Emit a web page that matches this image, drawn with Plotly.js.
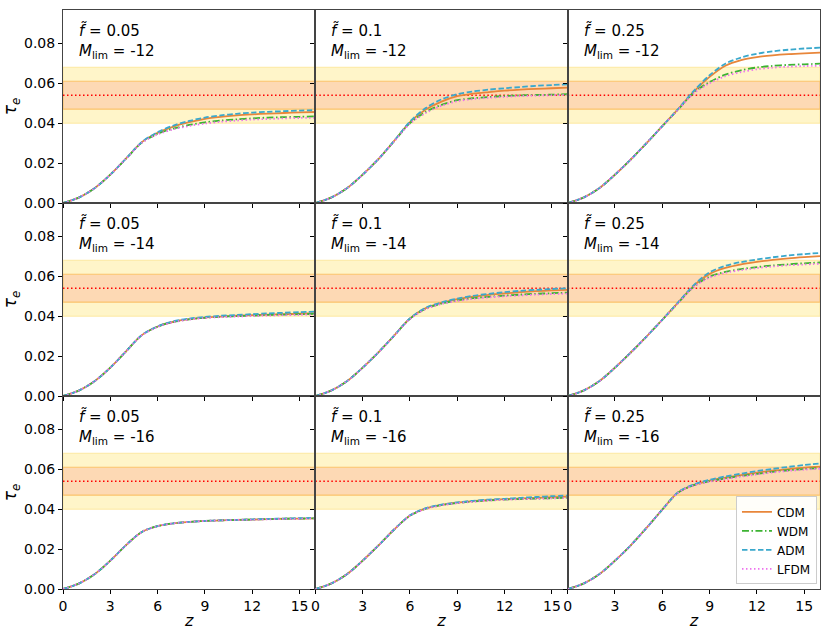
<!DOCTYPE html>
<html>
<head>
<meta charset="utf-8">
<script src="https://cdn.plot.ly/plotly-3.0.1.min.js"></script>
<style>
  body { margin: 0; background: #fff; }
  #plot { width: 830px; height: 635px; }
</style>
</head>
<body>
<div id="plot"></div>
<script>
// redshift grid, z = 0..16
const zGrid = [0,1,2,3,4,5,6,7,8,9,10,11,12,13,14,15,16];

// panel labels (row = M_lim, col = f~)
const fTilde = ['0.05', '0.1', '0.25'];
const mLim = ['-12', '-14', '-16'];
const models = ['CDM', 'WDM', 'ADM', 'LFDM'];

// Planck tau_e and its 1/2 sigma bands
const tauPlanck = 0.054;
const sig1 = 0.007;
const sig2 = 0.014;

// tau_e(z), one row per panel (row-major: M=-12 f=.05,.1,.25 ; M=-14 ... ; M=-16 ...)
const cdm = [
  [0,0.0027,0.0074,0.0142,0.0223,0.0305,0.0352,0.0383,0.0405,0.0422,0.0432,0.0439,0.0444,0.0448,0.0451,0.0454,0.0456],
  [0,0.0027,0.0074,0.0142,0.0220,0.0311,0.0405,0.0468,0.0508,0.0535,0.0548,0.0556,0.0563,0.0568,0.0572,0.0575,0.0578],
  [0,0.0027,0.0074,0.0142,0.0218,0.0300,0.0385,0.0470,0.0558,0.0632,0.0688,0.0716,0.0731,0.0740,0.0746,0.0750,0.0753],
  [0,0.0027,0.0074,0.0142,0.0224,0.0305,0.0348,0.0372,0.0385,0.0393,0.0398,0.0402,0.0405,0.0408,0.0410,0.0412,0.0415],
  [0,0.0027,0.0074,0.0142,0.0219,0.0303,0.0388,0.0440,0.0467,0.0485,0.0498,0.0507,0.0514,0.0520,0.0525,0.0529,0.0532],
  [0,0.0027,0.0074,0.0142,0.0218,0.0298,0.0382,0.0468,0.0553,0.0612,0.0642,0.0660,0.0672,0.0682,0.0690,0.0696,0.0701],
  [0,0.0027,0.0074,0.0142,0.0220,0.0286,0.0315,0.0329,0.0336,0.0341,0.0344,0.0346,0.0348,0.0350,0.0352,0.0353,0.0354],
  [0,0.0027,0.0074,0.0142,0.0218,0.0298,0.0368,0.0404,0.0422,0.0433,0.0440,0.0446,0.0450,0.0454,0.0457,0.0460,0.0463],
  [0,0.0027,0.0074,0.0142,0.0219,0.0306,0.0398,0.0484,0.0522,0.0543,0.0558,0.0571,0.0583,0.0593,0.0601,0.0608,0.0613]
];
const wdm = [
  [0,0.0027,0.0074,0.0142,0.0222,0.0303,0.0347,0.0373,0.0391,0.0404,0.0413,0.0419,0.0424,0.0428,0.0430,0.0432,0.0434],
  [0,0.0027,0.0074,0.0142,0.0220,0.0310,0.0400,0.0456,0.0492,0.0515,0.0525,0.0531,0.0536,0.0539,0.0541,0.0543,0.0545],
  [0,0.0027,0.0074,0.0142,0.0218,0.0300,0.0385,0.0468,0.0553,0.0606,0.0643,0.0665,0.0679,0.0687,0.0692,0.0695,0.0698],
  [0,0.0027,0.0074,0.0142,0.0224,0.0305,0.0347,0.0371,0.0384,0.0392,0.0397,0.0400,0.0403,0.0406,0.0408,0.0410,0.0412],
  [0,0.0027,0.0074,0.0142,0.0219,0.0303,0.0387,0.0437,0.0463,0.0479,0.0490,0.0497,0.0503,0.0508,0.0512,0.0515,0.0518],
  [0,0.0027,0.0074,0.0142,0.0218,0.0298,0.0382,0.0466,0.0548,0.0598,0.0622,0.0636,0.0646,0.0654,0.0660,0.0665,0.0669],
  [0,0.0027,0.0074,0.0142,0.0220,0.0286,0.0315,0.0329,0.0336,0.0341,0.0344,0.0346,0.0348,0.0350,0.0352,0.0353,0.0354],
  [0,0.0027,0.0074,0.0142,0.0218,0.0298,0.0367,0.0402,0.0420,0.0431,0.0438,0.0444,0.0448,0.0451,0.0453,0.0455,0.0457],
  [0,0.0027,0.0074,0.0142,0.0219,0.0306,0.0398,0.0483,0.0520,0.0540,0.0554,0.0566,0.0577,0.0587,0.0595,0.0601,0.0606]
];
const adm = [
  [0,0.0027,0.0074,0.0142,0.0223,0.0306,0.0355,0.0388,0.0411,0.0428,0.0439,0.0447,0.0453,0.0457,0.0460,0.0463,0.0465],
  [0,0.0027,0.0074,0.0142,0.0220,0.0312,0.0408,0.0476,0.0519,0.0545,0.0559,0.0568,0.0575,0.0581,0.0587,0.0591,0.0595],
  [0,0.0027,0.0074,0.0142,0.0218,0.0300,0.0385,0.0471,0.0562,0.0640,0.0698,0.0729,0.0748,0.0760,0.0768,0.0774,0.0778],
  [0,0.0027,0.0074,0.0142,0.0224,0.0305,0.0349,0.0374,0.0388,0.0396,0.0402,0.0406,0.0410,0.0414,0.0417,0.0420,0.0423],
  [0,0.0027,0.0074,0.0142,0.0219,0.0303,0.0389,0.0442,0.0469,0.0488,0.0502,0.0512,0.0520,0.0527,0.0532,0.0536,0.0540],
  [0,0.0027,0.0074,0.0142,0.0218,0.0298,0.0382,0.0469,0.0556,0.0620,0.0652,0.0671,0.0684,0.0695,0.0704,0.0711,0.0717],
  [0,0.0027,0.0074,0.0142,0.0220,0.0286,0.0315,0.0329,0.0336,0.0341,0.0344,0.0346,0.0349,0.0351,0.0353,0.0355,0.0356],
  [0,0.0027,0.0074,0.0142,0.0218,0.0298,0.0369,0.0405,0.0423,0.0434,0.0442,0.0448,0.0452,0.0457,0.0461,0.0465,0.0468],
  [0,0.0027,0.0074,0.0142,0.0219,0.0306,0.0398,0.0485,0.0524,0.0547,0.0564,0.0578,0.0591,0.0602,0.0612,0.0621,0.0629]
];
const lfdm = [
  [0,0.0027,0.0074,0.0142,0.0222,0.0302,0.0344,0.0369,0.0386,0.0398,0.0407,0.0413,0.0418,0.0421,0.0424,0.0426,0.0427],
  [0,0.0027,0.0074,0.0142,0.0220,0.0309,0.0397,0.0451,0.0487,0.0510,0.0521,0.0527,0.0532,0.0536,0.0538,0.0540,0.0542],
  [0,0.0027,0.0074,0.0142,0.0218,0.0300,0.0385,0.0467,0.0550,0.0600,0.0635,0.0656,0.0670,0.0678,0.0683,0.0686,0.0688],
  [0,0.0027,0.0074,0.0142,0.0224,0.0304,0.0346,0.0370,0.0383,0.0391,0.0395,0.0398,0.0401,0.0403,0.0405,0.0407,0.0408],
  [0,0.0027,0.0074,0.0142,0.0219,0.0302,0.0386,0.0435,0.0461,0.0476,0.0487,0.0494,0.0500,0.0504,0.0508,0.0511,0.0513],
  [0,0.0027,0.0074,0.0142,0.0218,0.0298,0.0382,0.0465,0.0546,0.0594,0.0617,0.0631,0.0641,0.0649,0.0655,0.0659,0.0663],
  [0,0.0027,0.0074,0.0142,0.0220,0.0286,0.0315,0.0329,0.0336,0.0341,0.0344,0.0346,0.0347,0.0349,0.0351,0.0352,0.0353],
  [0,0.0027,0.0074,0.0142,0.0218,0.0298,0.0367,0.0401,0.0419,0.0430,0.0437,0.0443,0.0447,0.0450,0.0452,0.0454,0.0456],
  [0,0.0027,0.0074,0.0142,0.0219,0.0306,0.0398,0.0482,0.0519,0.0538,0.0551,0.0563,0.0574,0.0584,0.0592,0.0598,0.0603]
];

const series = [cdm, wdm, adm, lfdm];
const colors = ['#e8863a', '#3cb332', '#3aa8cc', '#ee72ee'];
const dashes = ['solid', '7px,2.5px,1.5px,2.5px', '5.5px,2.5px', '1.5px,2.5px'];

const FONT = 'DejaVu Sans, Arial, sans-serif';
const traces = [];
const shapes = [];
const annotations = [];
const layout = {
  width: 830, height: 635,
  margin: {l: 63, r: 10, t: 10, b: 46},
  paper_bgcolor: '#fff', plot_bgcolor: '#fff',
  font: {family: FONT, size: 14, color: '#000'},
  showlegend: true,
  legend: {
    x: 0.996, xanchor: 'right', y: 0.008, yanchor: 'bottom',
    bgcolor: 'rgba(255,255,255,0.9)', bordercolor: '#cccccc', borderwidth: 1,
    font: {size: 12}, tracegroupgap: 0, itemwidth: 30
  }
};

for (let i = 0; i < 9; ++i) {
  let r = Math.floor(i / 3), c = i % 3;
  let n = i === 0 ? '' : String(i + 1);
  let xa = 'x' + n, ya = 'y' + n;

  layout['xaxis' + n] = {
    domain: [c / 3, (c + 1) / 3], anchor: ya, range: [0, 16],
    tickvals: [0, 3, 6, 9, 12, 15], showticklabels: r === 2,
    ticks: 'outside', ticklen: 4, tickcolor: '#000',
    showline: true, mirror: true, linecolor: '#444', linewidth: 1,
    showgrid: false, zeroline: false,
    tickfont: {size: 14},
    title: r === 2 ? {text: '<i>z</i>', font: {size: 16}, standoff: 2} : {text: ''}
  };
  layout['yaxis' + n] = {
    domain: [1 - (r + 1) / 3, 1 - r / 3], anchor: xa, range: [0, 0.0967],
    tickvals: [0, 0.02, 0.04, 0.06, 0.08], tickformat: '.2f', showticklabels: c === 0,
    ticks: 'outside', ticklen: 4, tickcolor: '#000',
    showline: true, mirror: true, linecolor: '#444', linewidth: 1,
    showgrid: false, zeroline: false,
    tickfont: {size: 14},
    title: c === 0 ? {text: '<i>τ</i><sub><i>e</i></sub>', font: {size: 17}, standoff: 6} : {text: ''}
  };

  // 2-sigma and 1-sigma bands, Planck value
  shapes.push({type: 'rect', xref: xa + ' domain', yref: ya, x0: 0, x1: 1,
    y0: tauPlanck - sig2, y1: tauPlanck + sig2, layer: 'below',
    fillcolor: '#fff5c9', line: {color: '#fde9a0', width: 1}});
  shapes.push({type: 'rect', xref: xa + ' domain', yref: ya, x0: 0, x1: 1,
    y0: tauPlanck - sig1, y1: tauPlanck + sig1, layer: 'below',
    fillcolor: '#fdd9b4', line: {color: '#fbc46c', width: 1.2}});
  shapes.push({type: 'line', xref: xa + ' domain', yref: ya, x0: 0, x1: 1,
    y0: tauPlanck, y1: tauPlanck, layer: 'below',
    line: {color: '#ff0000', width: 1.6, dash: '1.5px,2.5px'}});

  for (let m = 0; m < models.length; ++m) {
    traces.push({
      type: 'scatter', mode: 'lines', x: zGrid, y: series[m][i],
      xaxis: xa, yaxis: ya, name: models[m], legendgroup: models[m],
      showlegend: i === 0,
      line: {color: colors[m], width: 1.8, dash: dashes[m], shape: 'spline', smoothing: 0.9},
      hoverinfo: 'skip'
    });
  }

  annotations.push({xref: xa + ' domain', yref: ya + ' domain', x: 0.055, y: 0.955,
    xanchor: 'left', yanchor: 'top', showarrow: false, align: 'left',
    font: {size: 15},
    text: '<i>f̃</i> = ' + fTilde[c]});
  annotations.push({xref: xa + ' domain', yref: ya + ' domain', x: 0.055, y: 0.845,
    xanchor: 'left', yanchor: 'top', showarrow: false, align: 'left',
    font: {size: 15},
    text: '<i>M</i><sub>lim</sub> = ' + mLim[r]});
}

layout.shapes = shapes;
layout.annotations = annotations;

Plotly.newPlot('plot', traces, layout, {staticPlot: true, displayModeBar: false});
</script>
</body>
</html>
